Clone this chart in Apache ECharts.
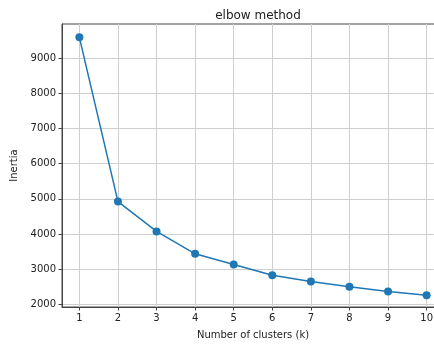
<!DOCTYPE html>
<html>
<head>
<meta charset="utf-8">
<script src="https://cdn.jsdelivr.net/npm/echarts@6/dist/echarts.min.js"></script>
<style>html,body{margin:0;padding:0;background:#fff;overflow:hidden}#c{width:434px;height:344px}</style>
</head>
<body>
<div id="c"></div>
<script>
const clusters = [1, 2, 3, 4, 5, 6, 7, 8, 9, 10];
const inertia = [9598, 4923, 4074, 3436, 3134, 2829, 2650, 2496, 2365, 2259];
const yTicks = [2000, 3000, 4000, 5000, 6000, 7000, 8000, 9000];
const xTicks = [1, 2, 3, 4, 5, 6, 7, 8, 9, 10];

const font = 'DejaVu Sans';
const chart = echarts.init(document.getElementById('c'), null, {renderer: 'canvas'});
chart.setOption({
  animation: false,
  backgroundColor: '#fff',
  title: {
    text: 'elbow method', left: 253, top: 5, textAlign: 'center',
    textStyle: {fontFamily: font, fontSize: 12, fontWeight: 'normal', color: '#222'}
  },
  grid: {left: 62, top: 24, width: 382, height: 283, outerBoundsMode: 'none', show: true, borderColor: '#444', borderWidth: 1, backgroundColor: 'transparent'},
  xAxis: {
    type: 'value', min: 0.55, max: 10.45,
    name: 'Number of clusters (k)', nameLocation: 'middle', nameGap: 23,
    nameTextStyle: {fontFamily: font, fontSize: 10, color: '#222'},
    axisLine: {show: true, lineStyle: {color: '#444', width: 1}},
    axisTick: {show: true, length: 3.5, customValues: xTicks, lineStyle: {color: '#444'}},
    axisLabel: {customValues: xTicks, fontFamily: font, fontSize: 10, color: '#222', margin: 6, formatter: v => String(v)},
    splitLine: {show: true, lineStyle: {color: '#cfcfcf', width: 1}}
  },
  yAxis: {
    type: 'value', min: 1923, max: 9977,
    name: 'Inertia', nameLocation: 'middle', nameGap: 39,
    nameTextStyle: {fontFamily: font, fontSize: 10, color: '#222'},
    axisLine: {show: true, lineStyle: {color: '#444', width: 1}},
    axisTick: {show: true, length: 3.5, customValues: yTicks, lineStyle: {color: '#444'}},
    axisLabel: {customValues: yTicks, fontFamily: font, fontSize: 10, color: '#222', margin: 6, formatter: v => String(v)},
    splitLine: {show: true, lineStyle: {color: '#cfcfcf', width: 1}}
  },
  series: [{
    type: 'line',
    data: clusters.map((k, i) => [k, inertia[i]]),
    symbol: 'circle', symbolSize: 8,
    lineStyle: {color: '#1f77b4', width: 1.5},
    itemStyle: {color: '#1f77b4'}
  }]
});
</script>
</body>
</html>
